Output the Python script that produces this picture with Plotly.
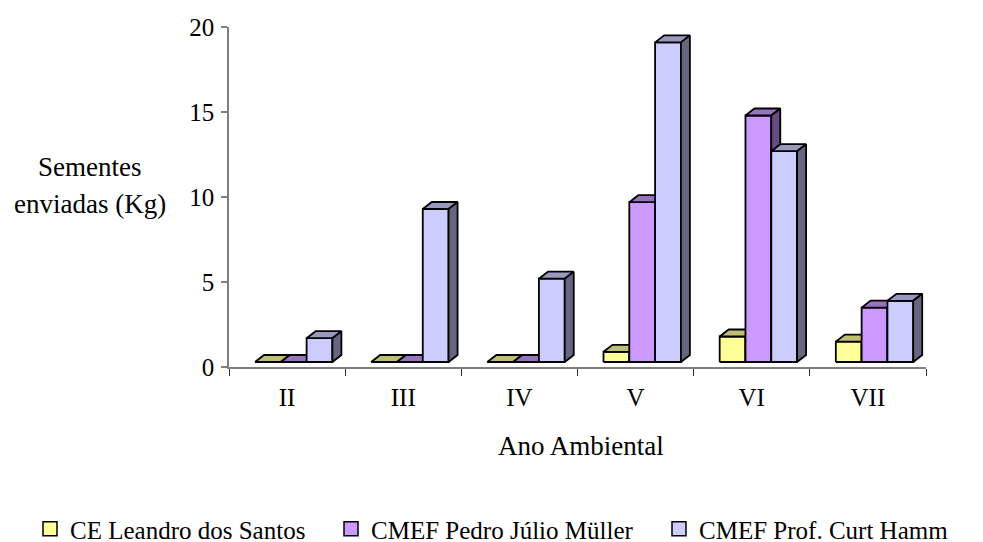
import plotly.graph_objects as go

# ---------------- data ----------------
categories = ["II", "III", "IV", "V", "VI", "VII"]
series_names = ["CE Leandro dos Santos", "CMEF Pedro Júlio Müller", "CMEF Prof. Curt Hamm"]
ce_leandro = [0, 0, 0, 0.6, 1.5, 1.2]
cmef_pedro = [0, 0, 0, 9.4, 14.5, 3.2]
cmef_curt = [1.4, 9.0, 4.9, 18.8, 12.4, 3.6]
y_ticks = [0, 5, 10, 15, 20]

# ---------------- styles ----------------
front_colors = ["#FFFF99", "#CC99FF", "#CCCCFF"]
top_colors = ["#BFBF73", "#9973BF", "#9999BF"]
side_colors = ["#7F7F4C", "#664C80", "#666680"]
FONT = "Liberation Serif"

W, H = 983, 542
PX_L, PX_R = 229, 926          # x-axis pixel extent
PX_Y0, PX_Y20 = 367, 27         # y pixel of 0 and 20
ux = len(categories) / (PX_R - PX_L)   # data units per px (x)
uy = 20 / (PX_Y0 - PX_Y20)             # data units per px (y)

offset = 26 * ux      # gap from category boundary to first bar
bw = 25.8 * ux        # bar width
ddx = 9 * ux          # 3d depth (x)
ddy = 7 * uy          # 3d depth (y)
floor_shift = 5 * uy  # bars' front floor sits above axis line

series_vals = [ce_leandro, cmef_pedro, cmef_curt]

fig = go.Figure()

for si, vals in enumerate(series_vals):
    fx, fy, tx, ty, sx, sy = [], [], [], [], [], []
    for ci, v in enumerate(vals):
        x0 = ci - 0.5 + offset + si * bw
        x1 = x0 + bw
        fx += [x0, x1, x1, x0, x0, None]
        fy += [0, 0, v, v, 0, None]
        tx += [x0, x1, x1 + ddx, x0 + ddx, x0, None]
        ty += [v, v, v + ddy, v + ddy, v, None]
        if v > 0:
            sx += [x1, x1 + ddx, x1 + ddx, x1, x1, None]
            sy += [0, ddy, v + ddy, v, 0, None]
    for xs, ys, col in [(fx, fy, front_colors[si]), (tx, ty, top_colors[si]), (sx, sy, side_colors[si])]:
        if not xs:
            continue
        fig.add_trace(go.Scatter(
            x=xs, y=ys, mode="lines", fill="toself", fillcolor=col,
            line=dict(color="black", width=1.8), yaxis="y2",
            showlegend=False, hoverinfo="skip"))

legend_ids = ["legend", "legend2", "legend3"]
for si, name in enumerate(series_names):
    fig.add_trace(go.Scatter(
        x=[None], y=[None], mode="markers", name=name,
        marker=dict(symbol="square", size=14, color=front_colors[si],
                    line=dict(color="black", width=1.5)),
        legend=legend_ids[si], showlegend=True))

leg_text_start = [70, 371, 699]
leg_common = dict(font=dict(family=FONT, size=25, color="black"), yanchor="middle",
                  y=1 - 529 / H, xanchor="left", bgcolor="rgba(0,0,0,0)",
                  borderwidth=0, itemwidth=30)

fig.update_layout(
    width=W, height=H,
    margin=dict(l=0, r=0, t=0, b=0, autoexpand=False),
    paper_bgcolor="white", plot_bgcolor="white",
    font=dict(family=FONT, size=25, color="black"),
    xaxis=dict(
        domain=[PX_L / W, PX_R / W], range=[-0.5, len(categories) - 0.5],
        tickvals=list(range(len(categories))), ticktext=categories,
        ticks="outside", ticklen=7, tickcolor="rgba(0,0,0,0)",
        showline=True, linecolor="#7f7f7f", linewidth=1.5,
        showgrid=False, zeroline=False, automargin=False,
        tickfont=dict(family=FONT, size=25, color="black"),
        minor=dict(tickvals=[k - 0.5 for k in range(len(categories) + 1)],
                   ticks="outside", ticklen=7, tickcolor="#333333", tickwidth=1.2,
                   showgrid=False),
        fixedrange=True,
    ),
    yaxis=dict(
        domain=[1 - PX_Y0 / H, 1 - PX_Y20 / H], range=[0, 20],
        tickvals=y_ticks, ticks="outside", ticklen=6, tickcolor="#7f7f7f",
        tickwidth=1.5, showline=True, linecolor="#7f7f7f", linewidth=1.5,
        showgrid=False, zeroline=False, ticklabelstandoff=2, automargin=False,
        tickfont=dict(family=FONT, size=25, color="black"),
        fixedrange=True,
    ),
    yaxis2=dict(overlaying="y", range=[-floor_shift, 20 - floor_shift],
                visible=False, fixedrange=True),
    legend=dict(x=(leg_text_start[0] - 40) / W, **leg_common),
    legend2=dict(x=(leg_text_start[1] - 40) / W, **leg_common),
    legend3=dict(x=(leg_text_start[2] - 40) / W, **leg_common),
    annotations=[
        dict(text="Ano Ambiental", x=581 / W, y=1 - 446 / H, xref="paper", yref="paper",
             xanchor="center", yanchor="middle", showarrow=False,
             font=dict(family=FONT, size=27, color="black")),
        dict(text="Sementes", x=89 / W, y=1 - 167 / H, xref="paper", yref="paper",
             xanchor="center", yanchor="middle", showarrow=False,
             font=dict(family=FONT, size=27, color="black")),
        dict(text="enviadas (Kg)", x=90 / W, y=1 - 204 / H, xref="paper", yref="paper",
             xanchor="center", yanchor="middle", showarrow=False,
             font=dict(family=FONT, size=27, color="black")),
    ],
)

fig.write_html("out.html")
